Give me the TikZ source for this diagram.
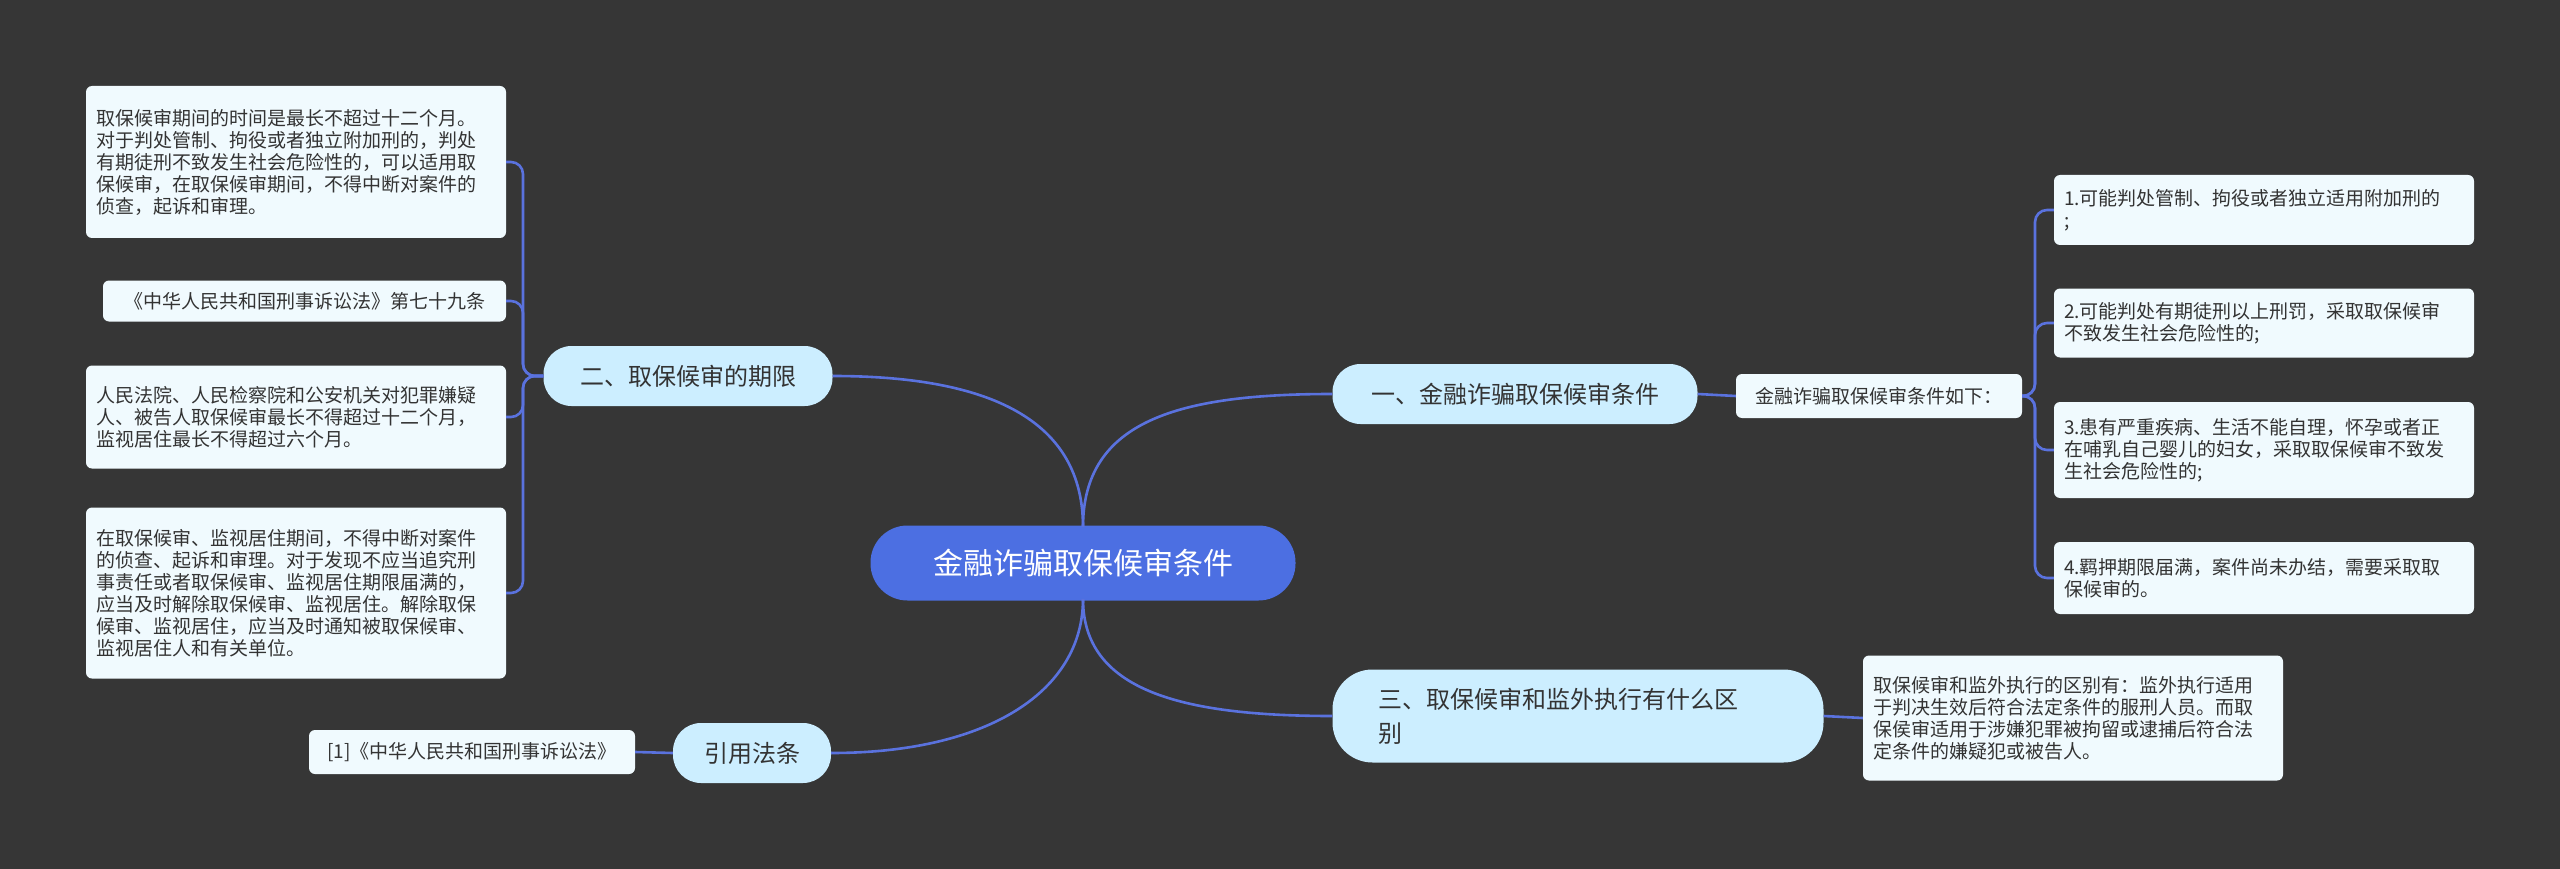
\documentclass[tikz,border=0pt]{standalone}
\usepackage{fontspec}
\newfontfamily\cjk{Noto Sans CJK SC}
\definecolor{bg}{HTML}{363636}
\definecolor{conn}{HTML}{5A72DE}
\definecolor{leaffill}{HTML}{F0FAFE}
\definecolor{brfill}{HTML}{CCEEFF}
\definecolor{cfill}{HTML}{4C6FE2}
\definecolor{txt}{HTML}{333333}
\tikzset{
  leaf/.style={fill=leaffill, rounded corners=6pt, align=left, text=txt, inner xsep=10pt, inner ysep=8pt, font=\cjk\fontsize{19}{22}\selectfont},
  branch/.style={fill=brfill, rounded corners=28pt, text=txt, font=\cjk\fontsize{24}{34}\selectfont, minimum height=60pt},
  link/.style={draw=conn, line width=2.6pt},
}
\begin{document}
\begin{tikzpicture}[x=1pt,y=-1pt]
\fill[bg] (0,0) rectangle (2560,869);
\useasboundingbox (0,0) rectangle (2560,869);

\node[fill=cfill, rounded corners=37pt, minimum width=425pt, minimum height=75pt, text=white, font=\cjk\fontsize{30}{36}\selectfont] (c) at (1083,563) {金融诈骗取保候审条件};

\node[branch, minimum width=365pt] (b1) at (1515,394) {一、金融诈骗取保候审条件};
\node[branch, minimum width=491pt, minimum height=93pt, rounded corners=40pt, align=left, text width=400pt, inner xsep=45pt] (b3) at (1578,716) {三、取保候审和监外执行有什么区\\别};
\node[branch, minimum width=289pt] (b2) at (688,376) {二、取保候审的期限};
\node[branch, minimum width=158pt] (b4) at (752,753) {引用法条};

\node[leaf, minimum width=286pt, minimum height=44pt] (s1) at (1879,396) {金融诈骗取保候审条件如下：};
\node[leaf, text width=400pt, minimum height=70pt] (r1) at (2264,210) {1.可能判处管制、拘役或者独立适用附加刑的\\;};
\node[leaf, text width=400pt, minimum height=69pt] (r2) at (2264,323) {2.可能判处有期徒刑以上刑罚，采取取保候审\\不致发生社会危险性的;};
\node[leaf, text width=400pt, minimum height=96pt] (r3) at (2264,450) {3.患有严重疾病、生活不能自理，怀孕或者正\\在哺乳自己婴儿的妇女，采取取保候审不致发\\生社会危险性的;};
\node[leaf, text width=400pt, minimum height=72pt] (r4) at (2264,578) {4.羁押期限届满，案件尚未办结，需要采取取\\保候审的。};

\node[leaf, text width=400pt, minimum height=125pt] (d3) at (2073,718) {取保候审和监外执行的区别有：监外执行适用\\于判决生效后符合法定条件的服刑人员。而取\\保侯审适用于涉嫌犯罪被拘留或逮捕后符合法\\定条件的嫌疑犯或被告人。};

\node[leaf, text width=400pt, minimum height=152pt] (l1) at (296,162) {取保候审期间的时间是最长不超过十二个月。\\对于判处管制、拘役或者独立附加刑的，判处\\有期徒刑不致发生社会危险性的，可以适用取\\保候审，在取保候审期间，不得中断对案件的\\侦查，起诉和审理。};
\node[leaf, minimum width=403pt, minimum height=41pt] (l2) at (304.5,301) {《中华人民共和国刑事诉讼法》第七十九条};
\node[leaf, text width=400pt, minimum height=103pt] (l3) at (296,417) {人民法院、人民检察院和公安机关对犯罪嫌疑\\人、被告人取保候审最长不得超过十二个月，\\监视居住最长不得超过六个月。};
\node[leaf, text width=400pt, minimum height=171pt] (l4) at (296,593) {在取保候审、监视居住期间，不得中断对案件\\的侦查、起诉和审理。对于发现不应当追究刑\\事责任或者取保候审、监视居住期限届满的，\\应当及时解除取保候审、监视居住。解除取保\\候审、监视居住，应当及时通知被取保候审、\\监视居住人和有关单位。};

\node[leaf, minimum width=326pt, minimum height=44pt] (k1) at (472,752) {[1]《中华人民共和国刑事诉讼法》};

% center to branches
\coordinate (ct) at (1083,527);
\coordinate (cb) at (1083,599);
\draw[link] (ct) .. controls (1083,420) and (1180,394) .. (b1.west);
\draw[link] (cb) .. controls (1083,690) and (1180,716) .. (b3.west);
\draw[link] (ct) .. controls (1083,420) and (990,376) .. (b2.east);
\draw[link] (cb) .. controls (1083,690) and (990,753) .. (b4.east);

% branch to leaves
\draw[link] (b1.east) -- (s1.west);
\draw[link] (b3.east) -- (d3.west);
\draw[link] (b4.west) -- (k1.east);
\coordinate (rt) at (2035,396);
\coordinate (lt) at (523,376);
\foreach \n in {r1,r2,r3,r4}{
  \draw[link, rounded corners=12pt] (s1.east) -- (rt) -- (rt |- \n.west) -- (\n.west);
}
\foreach \n in {l1,l2,l3,l4}{
  \draw[link, rounded corners=12pt] (b2.west) -- (lt) -- (lt |- \n.east) -- (\n.east);
}
\end{tikzpicture}
\end{document}
